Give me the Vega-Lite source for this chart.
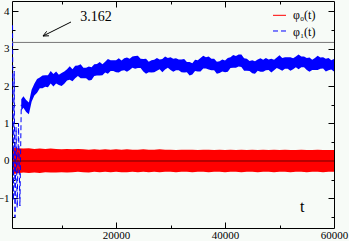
{
"$schema":"https://vega.github.io/schema/vega-lite/v6.json",
"width":322,"height":227,"autosize":{"type":"none"},
"padding":{"left":12,"top":1,"right":15,"bottom":13},
"background":"#f7fbf7",
"config":{"view":{"stroke":"black","strokeWidth":1},"axis":{"domain":false,"grid":false,"labelFont":"Liberation Serif","labelFontSize":11,"labelColor":"black","tickColor":"black","tickWidth":1,"labelFlush":false,"labelOverlap":false,"labelBound":false}},
"datasets":{
"red":[{"t":1100,"lo":-0.35,"hi":0.36},{"t":2000,"lo":-0.33,"hi":0.34},{"t":3000,"lo":-0.31,"hi":0.33},{"t":4000,"lo":-0.32,"hi":0.34},{"t":5000,"lo":-0.31,"hi":0.32},{"t":6000,"lo":-0.32,"hi":0.33},{"t":7000,"lo":-0.30,"hi":0.32},{"t":8000,"lo":-0.31,"hi":0.33},{"t":9000,"lo":-0.31,"hi":0.32},{"t":10000,"lo":-0.30,"hi":0.31},{"t":11000,"lo":-0.31,"hi":0.32},{"t":12000,"lo":-0.30,"hi":0.31},{"t":13000,"lo":-0.29,"hi":0.32},{"t":14000,"lo":-0.30,"hi":0.31},{"t":15000,"lo":-0.31,"hi":0.30},{"t":16000,"lo":-0.29,"hi":0.31},{"t":17000,"lo":-0.30,"hi":0.30},{"t":18000,"lo":-0.29,"hi":0.31},{"t":19000,"lo":-0.30,"hi":0.30},{"t":20000,"lo":-0.29,"hi":0.31},{"t":21000,"lo":-0.30,"hi":0.30},{"t":22000,"lo":-0.30,"hi":0.31},{"t":23000,"lo":-0.29,"hi":0.30},{"t":24000,"lo":-0.30,"hi":0.30},{"t":25000,"lo":-0.29,"hi":0.31},{"t":26000,"lo":-0.30,"hi":0.30},{"t":27000,"lo":-0.29,"hi":0.30},{"t":28000,"lo":-0.30,"hi":0.31},{"t":29000,"lo":-0.29,"hi":0.30},{"t":30000,"lo":-0.29,"hi":0.30},{"t":31000,"lo":-0.30,"hi":0.29},{"t":32000,"lo":-0.29,"hi":0.30},{"t":33000,"lo":-0.29,"hi":0.30},{"t":34000,"lo":-0.30,"hi":0.30},{"t":35000,"lo":-0.29,"hi":0.29},{"t":36000,"lo":-0.29,"hi":0.30},{"t":37000,"lo":-0.30,"hi":0.30},{"t":38000,"lo":-0.29,"hi":0.29},{"t":39000,"lo":-0.29,"hi":0.30},{"t":40000,"lo":-0.30,"hi":0.29},{"t":41000,"lo":-0.29,"hi":0.30},{"t":42000,"lo":-0.29,"hi":0.29},{"t":43000,"lo":-0.30,"hi":0.30},{"t":44000,"lo":-0.29,"hi":0.29},{"t":45000,"lo":-0.29,"hi":0.30},{"t":46000,"lo":-0.30,"hi":0.29},{"t":47000,"lo":-0.29,"hi":0.30},{"t":48000,"lo":-0.29,"hi":0.29},{"t":49000,"lo":-0.30,"hi":0.30},{"t":50000,"lo":-0.29,"hi":0.29},{"t":51000,"lo":-0.29,"hi":0.30},{"t":52000,"lo":-0.30,"hi":0.29},{"t":53000,"lo":-0.29,"hi":0.29},{"t":54000,"lo":-0.29,"hi":0.30},{"t":55000,"lo":-0.30,"hi":0.29},{"t":56000,"lo":-0.29,"hi":0.29},{"t":57000,"lo":-0.29,"hi":0.30},{"t":58000,"lo":-0.30,"hi":0.29},{"t":59000,"lo":-0.29,"hi":0.29},{"t":60000,"lo":-0.29,"hi":0.29}],
"blue":[{"t":2600,"lo":1.34,"hi":1.65},{"t":3000,"lo":1.42,"hi":1.73},{"t":3500,"lo":1.31,"hi":1.63},{"t":4000,"lo":1.25,"hi":1.56},{"t":4500,"lo":1.58,"hi":1.90},{"t":5000,"lo":1.75,"hi":2.06},{"t":5500,"lo":1.82,"hi":2.19},{"t":6000,"lo":1.94,"hi":2.23},{"t":6500,"lo":1.94,"hi":2.28},{"t":7000,"lo":1.98,"hi":2.29},{"t":7500,"lo":1.97,"hi":2.29},{"t":8000,"lo":2.07,"hi":2.40},{"t":8500,"lo":1.99,"hi":2.32},{"t":9000,"lo":2.07,"hi":2.39},{"t":9500,"lo":2.03,"hi":2.30},{"t":10000,"lo":2.00,"hi":2.35},{"t":10500,"lo":2.06,"hi":2.39},{"t":11000,"lo":2.15,"hi":2.45},{"t":11500,"lo":2.17,"hi":2.53},{"t":12000,"lo":2.13,"hi":2.45},{"t":12500,"lo":2.21,"hi":2.54},{"t":13000,"lo":2.27,"hi":2.55},{"t":13500,"lo":2.21,"hi":2.58},{"t":14000,"lo":2.21,"hi":2.49},{"t":14500,"lo":2.21,"hi":2.49},{"t":15000,"lo":2.15,"hi":2.52},{"t":15500,"lo":2.16,"hi":2.50},{"t":16000,"lo":2.27,"hi":2.58},{"t":16500,"lo":2.28,"hi":2.59},{"t":17000,"lo":2.28,"hi":2.64},{"t":17500,"lo":2.29,"hi":2.58},{"t":18000,"lo":2.36,"hi":2.65},{"t":18500,"lo":2.33,"hi":2.72},{"t":19000,"lo":2.40,"hi":2.69},{"t":19500,"lo":2.40,"hi":2.69},{"t":20000,"lo":2.37,"hi":2.69},{"t":20500,"lo":2.36,"hi":2.74},{"t":21000,"lo":2.41,"hi":2.68},{"t":21500,"lo":2.42,"hi":2.74},{"t":22000,"lo":2.38,"hi":2.76},{"t":22500,"lo":2.43,"hi":2.73},{"t":23000,"lo":2.49,"hi":2.79},{"t":23500,"lo":2.46,"hi":2.80},{"t":24000,"lo":2.48,"hi":2.81},{"t":24500,"lo":2.48,"hi":2.73},{"t":25000,"lo":2.39,"hi":2.72},{"t":25500,"lo":2.33,"hi":2.73},{"t":26000,"lo":2.37,"hi":2.65},{"t":26500,"lo":2.36,"hi":2.69},{"t":27000,"lo":2.37,"hi":2.70},{"t":27500,"lo":2.41,"hi":2.75},{"t":28000,"lo":2.45,"hi":2.71},{"t":28500,"lo":2.37,"hi":2.72},{"t":29000,"lo":2.44,"hi":2.79},{"t":29500,"lo":2.49,"hi":2.75},{"t":30000,"lo":2.43,"hi":2.77},{"t":30500,"lo":2.38,"hi":2.73},{"t":31000,"lo":2.42,"hi":2.74},{"t":31500,"lo":2.42,"hi":2.71},{"t":32000,"lo":2.37,"hi":2.71},{"t":32500,"lo":2.36,"hi":2.72},{"t":33000,"lo":2.37,"hi":2.64},{"t":33500,"lo":2.28,"hi":2.64},{"t":34000,"lo":2.31,"hi":2.61},{"t":34500,"lo":2.40,"hi":2.70},{"t":35000,"lo":2.39,"hi":2.69},{"t":35500,"lo":2.39,"hi":2.75},{"t":36000,"lo":2.47,"hi":2.81},{"t":36500,"lo":2.47,"hi":2.77},{"t":37000,"lo":2.44,"hi":2.79},{"t":37500,"lo":2.42,"hi":2.73},{"t":38000,"lo":2.42,"hi":2.73},{"t":38500,"lo":2.33,"hi":2.65},{"t":39000,"lo":2.35,"hi":2.66},{"t":39500,"lo":2.39,"hi":2.71},{"t":40000,"lo":2.37,"hi":2.68},{"t":40500,"lo":2.38,"hi":2.75},{"t":41000,"lo":2.48,"hi":2.77},{"t":41500,"lo":2.49,"hi":2.83},{"t":42000,"lo":2.49,"hi":2.80},{"t":42500,"lo":2.52,"hi":2.84},{"t":43000,"lo":2.51,"hi":2.84},{"t":43500,"lo":2.41,"hi":2.74},{"t":44000,"lo":2.41,"hi":2.73},{"t":44500,"lo":2.40,"hi":2.67},{"t":45000,"lo":2.34,"hi":2.69},{"t":45500,"lo":2.33,"hi":2.66},{"t":46000,"lo":2.41,"hi":2.71},{"t":46500,"lo":2.38,"hi":2.74},{"t":47000,"lo":2.38,"hi":2.70},{"t":47500,"lo":2.42,"hi":2.75},{"t":48000,"lo":2.43,"hi":2.71},{"t":48500,"lo":2.36,"hi":2.73},{"t":49000,"lo":2.42,"hi":2.70},{"t":49500,"lo":2.48,"hi":2.76},{"t":50000,"lo":2.45,"hi":2.82},{"t":50500,"lo":2.41,"hi":2.75},{"t":51000,"lo":2.46,"hi":2.77},{"t":51500,"lo":2.46,"hi":2.77},{"t":52000,"lo":2.41,"hi":2.77},{"t":52500,"lo":2.45,"hi":2.74},{"t":53000,"lo":2.50,"hi":2.79},{"t":53500,"lo":2.45,"hi":2.84},{"t":54000,"lo":2.50,"hi":2.79},{"t":54500,"lo":2.50,"hi":2.79},{"t":55000,"lo":2.43,"hi":2.75},{"t":55500,"lo":2.38,"hi":2.76},{"t":56000,"lo":2.43,"hi":2.70},{"t":56500,"lo":2.43,"hi":2.75},{"t":57000,"lo":2.43,"hi":2.81},{"t":57500,"lo":2.46,"hi":2.76},{"t":58000,"lo":2.47,"hi":2.77},{"t":58500,"lo":2.39,"hi":2.73},{"t":59000,"lo":2.42,"hi":2.75},{"t":59500,"lo":2.44,"hi":2.69},{"t":60000,"lo":2.39,"hi":2.72}],
"early":[{"t":1000,"v":3.62},{"t":1150,"v":-1.05},{"t":1300,"v":2.4},{"t":1450,"v":-1.5},{"t":1650,"v":0.9},{"t":1850,"v":-1.25},{"t":2100,"v":1.0},{"t":2350,"v":-1.2},{"t":2600,"v":1.5}],
"zero":[{"t":900,"v":0},{"t":60000,"v":0}],
"ref":[{"t":900,"v":3.162},{"t":60000,"v":3.162}],
"arrow":[{"g":"s","o":1,"t":11727,"v":3.707},{"g":"s","o":2,"t":6589,"v":3.333},{"g":"a","o":1,"t":7690,"v":3.339},{"g":"a","o":2,"t":6589,"v":3.333},{"g":"a","o":3,"t":7267,"v":3.459}],
"legRed":[{"t":48804,"v":3.885},{"t":51190,"v":3.885}],
"legBlue":[{"t":48804,"v":3.467},{"t":51190,"v":3.467}],
"legText":[{"t":52475,"v":3.893,"s":"φ₀(t)"},{"t":52475,"v":3.453,"s":"φ₁(t)"}]
},
"resolve":{"axis":{"x":"independent","y":"independent"}},
"layer":[
{"data":{"name":"red"},"mark":{"type":"area","color":"#ff0000","opacity":1},
 "encoding":{
  "x":{"field":"t","type":"quantitative","scale":{"domain":[900,60000],"nice":false,"zero":false},"axis":{"orient":"bottom","values":[20000,40000,60000],"ticks":false,"labelPadding":1,"title":null,"format":"d"}},
  "y":{"field":"lo","type":"quantitative","scale":{"domain":[-1.787,4.267],"nice":false,"zero":false},"axis":{"orient":"left","values":[-1,0,1,2,3,4],"ticks":false,"labelPadding":3,"title":null}},
  "y2":{"field":"hi"}
 }},
{"data":{"name":"blue"},"mark":{"type":"area","color":"#0000ff","opacity":1},
 "encoding":{
  "x":{"field":"t","type":"quantitative","axis":{"orient":"bottom","values":[20000,40000],"tickSize":-6,"labels":false,"title":null}},
  "y":{"field":"lo","type":"quantitative","axis":{"orient":"left","values":[-1,0,1,2,3,4],"tickSize":-6,"labels":false,"title":null}},
  "y2":{"field":"hi"}
 }},
{"data":{"name":"early"},"mark":{"type":"line","color":"#0000ff","strokeWidth":1,"strokeDash":[5,3]},
 "encoding":{
  "x":{"field":"t","type":"quantitative","axis":{"orient":"bottom","values":[10000,30000,50000],"tickSize":-3,"labels":false,"title":null}},
  "y":{"field":"v","type":"quantitative","axis":{"orient":"left","values":[-1.5,-0.5,0.5,1.5,2.5,3.5],"tickSize":-3,"labels":false,"title":null}}
 }},
{"data":{"name":"zero"},"mark":{"type":"line","color":"#700000","strokeWidth":1},
 "encoding":{
  "x":{"field":"t","type":"quantitative","axis":{"orient":"top","values":[20000,40000],"tickSize":-6,"labels":false,"title":null}},
  "y":{"field":"v","type":"quantitative","axis":{"orient":"right","values":[-1,0,1,2,3,4],"tickSize":-6,"labels":false,"title":null}}
 }},
{"data":{"name":"ref"},"mark":{"type":"line","color":"#777777","strokeWidth":1},
 "encoding":{
  "x":{"field":"t","type":"quantitative","axis":{"orient":"top","values":[10000,30000,50000],"tickSize":-3,"labels":false,"title":null}},
  "y":{"field":"v","type":"quantitative","axis":{"orient":"right","values":[-1.5,-0.5,0.5,1.5,2.5,3.5],"tickSize":-3,"labels":false,"title":null}}
 }},
{"data":{"name":"arrow"},"mark":{"type":"line","color":"black","strokeWidth":1},
 "encoding":{
  "x":{"field":"t","type":"quantitative","axis":null},
  "y":{"field":"v","type":"quantitative","axis":null},
  "detail":{"field":"g"},
  "order":{"field":"o"}
 }},
{"data":{"name":"legRed"},"mark":{"type":"line","color":"#ff0000","strokeWidth":1},
 "encoding":{"x":{"field":"t","type":"quantitative","axis":null},"y":{"field":"v","type":"quantitative","axis":null}}},
{"data":{"name":"legBlue"},"mark":{"type":"line","color":"#0000ff","strokeWidth":1,"strokeDash":[5,3]},
 "encoding":{"x":{"field":"t","type":"quantitative","axis":null},"y":{"field":"v","type":"quantitative","axis":null}}},
{"data":{"name":"legText"},"mark":{"type":"text","font":"Liberation Serif","fontSize":12,"color":"black","align":"left","baseline":"middle"},
 "encoding":{"x":{"field":"t","type":"quantitative","axis":null},"y":{"field":"v","type":"quantitative","axis":null},"text":{"field":"s"}}},
{"data":{"values":[{"t":16317,"v":3.84,"s":"3.162"}]},"mark":{"type":"text","font":"Liberation Serif","fontSize":14,"color":"black","align":"center","baseline":"middle"},
 "encoding":{"x":{"field":"t","type":"quantitative","axis":null},"y":{"field":"v","type":"quantitative","axis":null},"text":{"field":"s"}}},
{"data":{"values":[{"t":54150,"v":-1.227,"s":"t"}]},"mark":{"type":"text","font":"Liberation Serif","fontSize":16,"color":"black","align":"center","baseline":"middle"},
 "encoding":{"x":{"field":"t","type":"quantitative","axis":null},"y":{"field":"v","type":"quantitative","axis":null},"text":{"field":"s"}}}
]
}
